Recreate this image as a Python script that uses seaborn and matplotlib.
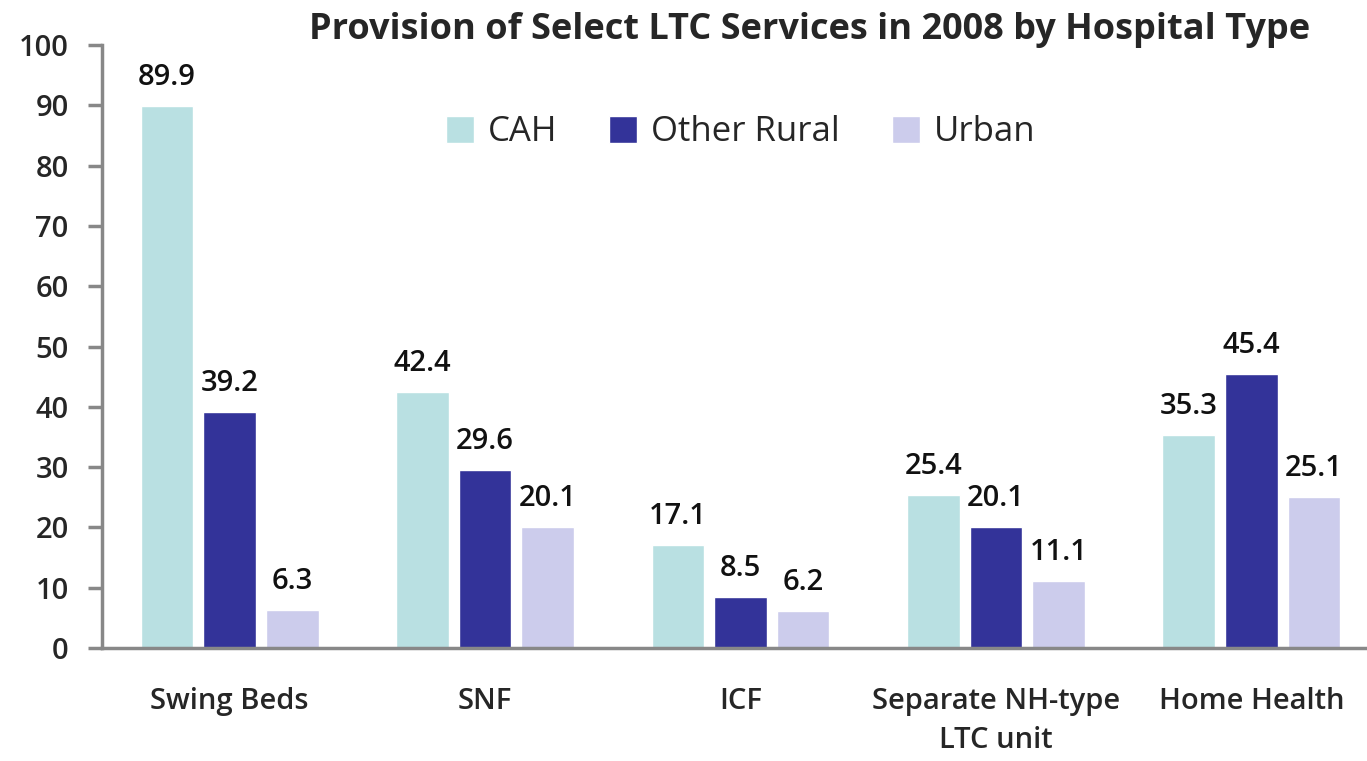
import matplotlib
matplotlib.use("Agg")
import matplotlib.pyplot as plt
import seaborn as sns
import pandas as pd
import numpy as np

categories = ["Swing Beds", "SNF", "ICF", "Separate NH-type\nLTC unit", "Home Health"]
series_names = ["CAH", "Other Rural", "Urban"]
cah = [89.9, 42.4, 17.1, 25.4, 35.3]
other_rural = [39.2, 29.6, 8.5, 20.1, 45.4]
urban = [6.3, 20.1, 6.2, 11.1, 25.1]
y_ticks = [0, 10, 20, 30, 40, 50, 60, 70, 80, 90, 100]
title = "Provision of Select LTC Services in 2008 by Hospital Type"

colors = ["#b9e0e2", "#333399", "#ccccec"]

rows = []
for name, vals in zip(series_names, [cah, other_rural, urban]):
    for c, v in zip(categories, vals):
        rows.append({"category": c, "series": name, "value": v})
df = pd.DataFrame(rows)

sns.set_theme(style="white")
plt.rcParams["font.family"] = ["Open Sans", "DejaVu Sans"]

fig = plt.figure(figsize=(13.67, 7.61), dpi=100)
ax = fig.add_axes([102/1367, 1-648/761, 1277/1367, (648-45)/761])

sns.barplot(data=df, x="category", y="value", hue="series", order=categories,
            hue_order=series_names, palette=colors, width=0.735, gap=0.16,
            ax=ax, saturation=1, errorbar=None, legend=True)

for cont in ax.containers:
    ax.bar_label(cont, fmt="%.1f", padding=10, fontsize=21, fontweight="semibold", color="#111111")

ax.set_xlim(-0.5, 4.5)
ax.set_ylim(0, 100)
ax.set_yticks(y_ticks)
ax.set_yticklabels([str(t) for t in y_ticks], fontsize=21, fontweight="semibold")
ax.set_xlabel("")
ax.set_ylabel("")
ax.set_xticks(range(len(categories)))
ax.set_xticklabels(categories, fontsize=21, fontweight="semibold", linespacing=1.45)
ax.set_xticks(np.arange(-0.5, 5.0, 1.0), minor=True)
ax.tick_params(axis="x", which="major", length=0, pad=28)
ax.tick_params(axis="x", which="minor", length=10, width=2.5, color="#888888", direction="out")
ax.tick_params(axis="y", which="major", length=10, width=2.5, color="#888888", direction="out", left=True, pad=14)

for s in ["top", "right"]:
    ax.spines[s].set_visible(False)
for s in ["left", "bottom"]:
    ax.spines[s].set_color("#888888")
    ax.spines[s].set_linewidth(2.5)

leg = ax.legend(loc="upper center", bbox_to_anchor=(0.5, 0.935), ncol=3, frameon=False,
                fontsize=25, handlelength=0.8, handleheight=0.8, columnspacing=1.5,
                handletextpad=0.4)
for t in leg.get_texts():
    t.set_fontweight("medium")

fig.text(810/1367, 1-30/761, title, ha="center", va="center", fontsize=26, fontweight="bold")

fig.savefig("out.png", dpi=100)
